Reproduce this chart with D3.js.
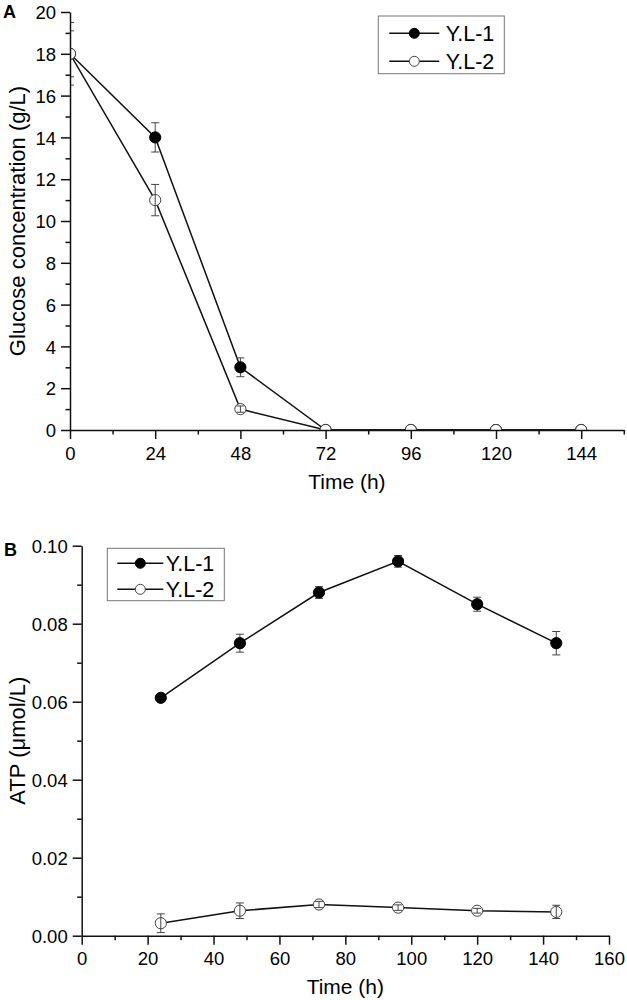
<!DOCTYPE html>
<html>
<head>
<meta charset="utf-8">
<script src="https://cdn.jsdelivr.net/npm/d3@7"></script>
<style>
  html, body { margin: 0; padding: 0; background: #fff; }
  svg { display: block; }
  text { font-family: "Liberation Sans", Arial, sans-serif; fill: #000; }
</style>
</head>
<body>
<svg id="chart" width="627" height="1000"></svg>
<script>
// ---------------- DATA ----------------
const seriesNames = ["Y.L-1", "Y.L-2"];

// Panel A: glucose concentration
const timeA = [0, 24, 48, 72, 96, 120, 144];
const glucoseYL1 = [18, 14, 3, 0, 0, 0, 0];
const glucoseYL1Err = [1.5, 0.7, 0.45, 0, 0, 0, 0];
const glucoseYL2 = [18, 11, 1, 0, 0, 0, 0];
const glucoseYL2Err = [1.1, 0.75, 0.15, 0, 0, 0, 0];
const xTicksA = [0, 24, 48, 72, 96, 120, 144];
const yTicksA = [0, 2, 4, 6, 8, 10, 12, 14, 16, 18, 20];

// Panel B: ATP
const timeB = [24, 48, 72, 96, 120, 144];
const atpYL1 = [0.061, 0.075, 0.088, 0.096, 0.085, 0.075];
const atpYL1Err = [0.0005, 0.0023, 0.0015, 0.0015, 0.0018, 0.003];
const atpYL2 = [0.0032, 0.0064, 0.008, 0.0072, 0.0064, 0.0061];
const atpYL2Err = [0.0024, 0.002, 0.0008, 0.0007, 0.0006, 0.0017];
const xTicksB = [0, 20, 40, 60, 80, 100, 120, 140, 160];
const yTicksB = [0, 0.02, 0.04, 0.06, 0.08, 0.10];

// ---------------- DRAW ----------------
const svg = d3.select("#chart");

function drawPanel(cfg) {
  const g = svg.append("g");
  const x = d3.scaleLinear().domain(cfg.xDomain).range([cfg.left, cfg.right]);
  const y = d3.scaleLinear().domain(cfg.yDomain).range([cfg.bottom, cfg.top]);

  const clipId = "clip-" + cfg.id;
  svg.append("clipPath").attr("id", clipId)
    .append("rect")
    .attr("x", cfg.left).attr("y", cfg.top - 20)
    .attr("width", cfg.right - cfg.left + 10)
    .attr("height", cfg.bottom - cfg.top + 20);

  const plot = g.append("g").attr("clip-path", `url(#${clipId})`);

  const line = d3.line().x(d => x(d.t)).y(d => y(d.v));

  cfg.series.forEach((s, si) => {
    const data = s.t.map((t, i) => ({ t, v: s.v[i], e: s.e[i] }));
    plot.append("path").datum(data)
      .attr("d", line).attr("fill", "none")
      .attr("stroke", "#111").attr("stroke-width", 1.5);

    const drawErr = () => {
      const eb = plot.append("g").attr("stroke", "#444").attr("stroke-width", 1);
      data.filter(d => d.e > 0).forEach(d => {
        const cx = x(d.t), y1 = y(d.v + d.e), y2 = y(d.v - d.e);
        eb.append("line").attr("x1", cx).attr("x2", cx).attr("y1", y1).attr("y2", y2);
        eb.append("line").attr("x1", cx - 4).attr("x2", cx + 4).attr("y1", y1).attr("y2", y1);
        eb.append("line").attr("x1", cx - 4).attr("x2", cx + 4).attr("y1", y2).attr("y2", y2);
      });
    };
    const drawMarkers = () => {
      plot.append("g").selectAll("circle").data(data).join("circle")
        .attr("cx", d => x(d.t)).attr("cy", d => y(d.v)).attr("r", 5.6)
        .attr("fill", s.filled ? "#000" : "#fff")
        .attr("stroke", s.filled ? "#000" : "#444")
        .attr("stroke-width", 1);
    };
    if (s.filled) { drawErr(); drawMarkers(); } else { drawMarkers(); drawErr(); }
  });

  // Axes
  const axisStyle = sel => {
    sel.selectAll("path.domain").attr("stroke", "#111").attr("stroke-width", 1.5);
    sel.selectAll(".tick line").attr("stroke", "#111").attr("stroke-width", 1.5);
    sel.selectAll("text").attr("font-size", "18.5px").attr("fill", "#000")
      .style("font-family", '"Liberation Sans", Arial, sans-serif');
  };

  // minor ticks
  g.append("g").attr("transform", `translate(0,${cfg.bottom})`)
    .call(d3.axisBottom(x).tickValues(cfg.xMinor).tickSize(4.5).tickSizeOuter(0).tickFormat(""))
    .call(axisStyle).call(s => s.select(".domain").remove());
  g.append("g").attr("transform", `translate(${cfg.left},0)`)
    .call(d3.axisLeft(y).tickValues(cfg.yMinor).tickSize(4.5).tickSizeOuter(0).tickFormat(""))
    .call(axisStyle).call(s => s.select(".domain").remove());

  // major
  const xa = g.append("g").attr("transform", `translate(0,${cfg.bottom})`)
    .call(d3.axisBottom(x).tickValues(cfg.xTicks).tickSize(9).tickSizeOuter(0)
      .tickPadding(5).tickFormat(cfg.xFormat))
    .call(axisStyle);
  xa.selectAll(".tick text").attr("dy", null).attr("y", cfg.xLabelOffset);

  const ya = g.append("g").attr("transform", `translate(${cfg.left},0)`)
    .call(d3.axisLeft(y).tickValues(cfg.yTicks).tickSize(9).tickSizeOuter(0)
      .tickPadding(5).tickFormat(cfg.yFormat))
    .call(axisStyle);
  ya.selectAll(".tick text").attr("dy", "0.36em");

  // Axis titles
  g.append("text").attr("x", (cfg.left + cfg.right) / 2).attr("y", cfg.xTitleY)
    .attr("text-anchor", "middle").attr("font-size", "21px").text("Time (h)");
  g.append("text")
    .attr("transform", `translate(${cfg.yTitleX},${(cfg.top + cfg.bottom) / 2}) rotate(-90)`)
    .attr("text-anchor", "middle").attr("font-size", "22px").text(cfg.yTitle);

  // Panel letter
  g.append("text").attr("x", cfg.letterX).attr("y", cfg.letterY)
    .attr("font-size", "18px").attr("font-weight", "bold").text(cfg.letter);

  // Legend
  const L = cfg.legend;
  const lg = g.append("g");
  lg.append("rect").attr("x", L.x).attr("y", L.y).attr("width", L.w).attr("height", L.h)
    .attr("fill", "#fff").attr("stroke", "#777").attr("stroke-width", 1);
  cfg.series.forEach((s, i) => {
    const ry = L.rows[i];
    lg.append("line").attr("x1", L.lx1).attr("x2", L.lx2).attr("y1", ry).attr("y2", ry)
      .attr("stroke", "#111").attr("stroke-width", 1.5);
    lg.append("circle").attr("cx", (L.lx1 + L.lx2) / 2).attr("cy", ry).attr("r", 5)
      .attr("fill", s.filled ? "#000" : "#fff")
      .attr("stroke", s.filled ? "#000" : "#444").attr("stroke-width", 1);
    lg.append("text").attr("x", L.tx).attr("y", ry + 7.7)
      .attr("font-size", "21.5px").text(s.name);
  });
}

drawPanel({
  id: "A", letter: "A", letterX: 3, letterY: 18,
  xDomain: [0, 156], yDomain: [0, 20],
  left: 70, right: 623.8, top: 12, bottom: 430,
  xTicks: xTicksA, yTicks: yTicksA,
  xMinor: d3.range(12, 157, 24), yMinor: d3.range(1, 20, 2),
  xFormat: d3.format("d"), yFormat: d3.format("d"),
  xLabelOffset: 30, xTitleY: 489, yTitleX: 25,
  yTitle: "Glucose concentration (g/L)",
  series: [
    { name: seriesNames[0], t: timeA, v: glucoseYL1, e: glucoseYL1Err, filled: true },
    { name: seriesNames[1], t: timeA, v: glucoseYL2, e: glucoseYL2Err, filled: false }
  ],
  legend: { x: 378.3, y: 16, w: 126, h: 57.7, rows: [33.3, 61.3], lx1: 389.3, lx2: 439.3, tx: 445.7 }
});

drawPanel({
  id: "B", letter: "B", letterX: 4, letterY: 556,
  xDomain: [0, 160], yDomain: [0, 0.10],
  left: 81.7, right: 609, top: 545.7, bottom: 935.7,
  xTicks: xTicksB, yTicks: yTicksB,
  xMinor: d3.range(10, 160, 20), yMinor: [0.01, 0.03, 0.05, 0.07, 0.09],
  xFormat: d3.format("d"), yFormat: d3.format(".2f"),
  xLabelOffset: 29.5, xTitleY: 994, yTitleX: 25,
  yTitle: "ATP (μmol/L)",
  series: [
    { name: seriesNames[0], t: timeB, v: atpYL1, e: atpYL1Err, filled: true },
    { name: seriesNames[1], t: timeB, v: atpYL2, e: atpYL2Err, filled: false }
  ],
  legend: { x: 107.3, y: 548.3, w: 117, h: 52.4, rows: [563.3, 589.3], lx1: 117.3, lx2: 163.3, tx: 165.7 }
});
</script>
</body>
</html>
